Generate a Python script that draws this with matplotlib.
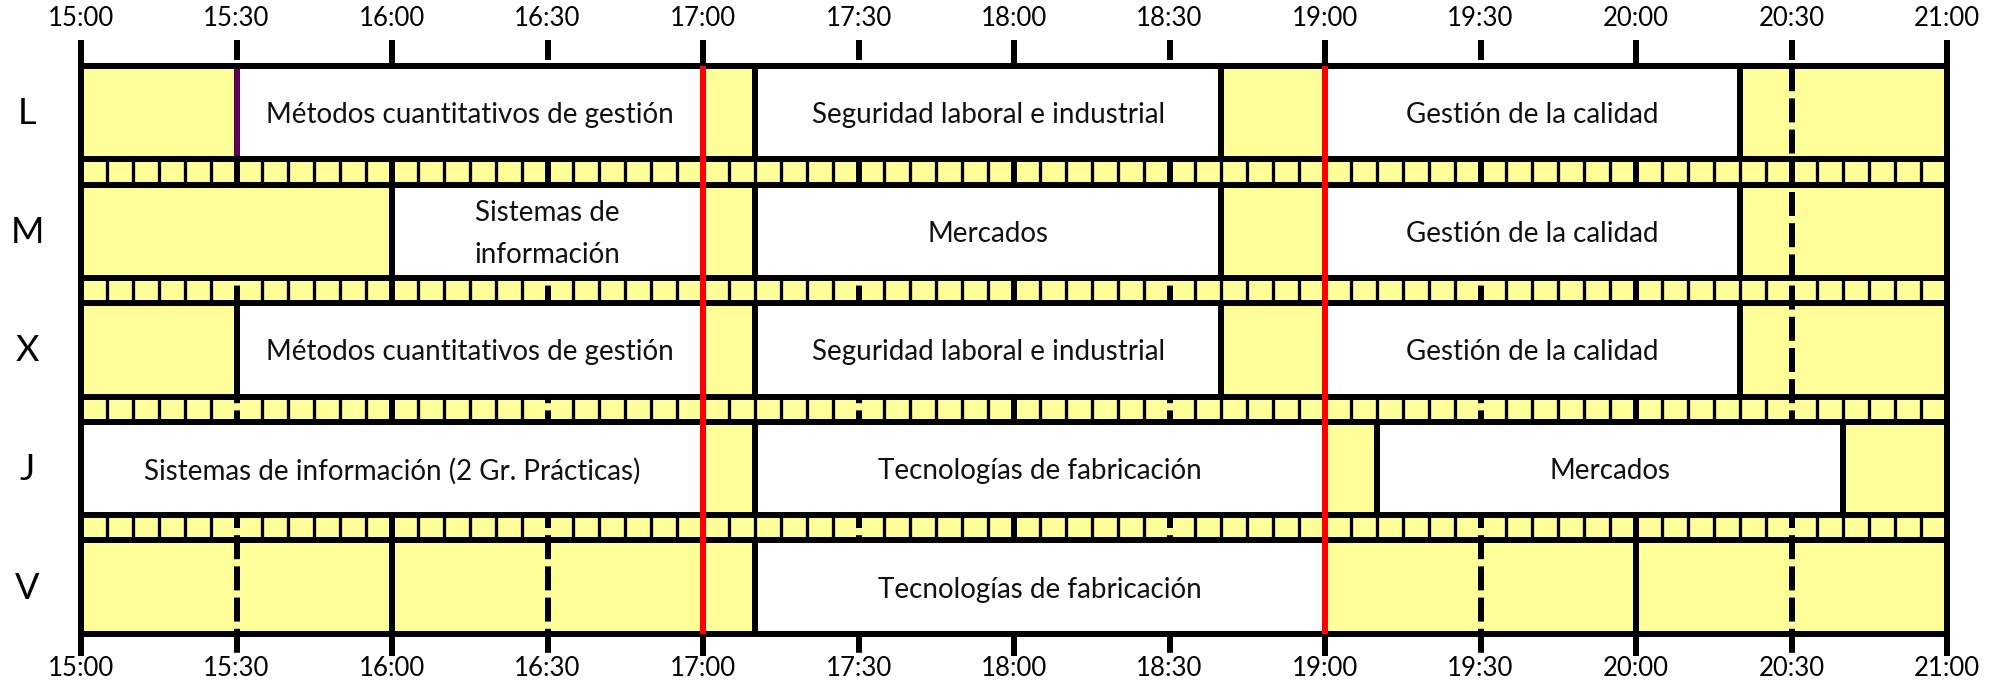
import matplotlib
matplotlib.use("Agg")
import matplotlib.pyplot as plt
from matplotlib.patches import Rectangle

# ---------------- data ----------------
days = ['L', 'M', 'X', 'J', 'V']
tick_labels = ['15:00', '15:30', '16:00', '16:30', '17:00', '17:30', '18:00',
               '18:30', '19:00', '19:30', '20:00', '20:30', '21:00']

courses_L = [('15:30', '17:00', 'Métodos cuantitativos de gestión'),
             ('17:10', '18:40', 'Seguridad laboral e industrial'),
             ('19:00', '20:20', 'Gestión de la calidad')]
courses_M = [('16:00', '17:00', 'Sistemas de\ninformación'),
             ('17:10', '18:40', 'Mercados'),
             ('19:00', '20:20', 'Gestión de la calidad')]
courses_X = [('15:30', '17:00', 'Métodos cuantitativos de gestión'),
             ('17:10', '18:40', 'Seguridad laboral e industrial'),
             ('19:00', '20:20', 'Gestión de la calidad')]
courses_J = [('15:00', '17:00', 'Sistemas de información (2 Gr. Prácticas)'),
             ('17:10', '19:00', 'Tecnologías de fabricación'),
             ('19:10', '20:40', 'Mercados')]
courses_V = [('17:10', '19:00', 'Tecnologías de fabricación')]
courses = [courses_L, courses_M, courses_X, courses_J, courses_V]

free_blocks = [('M', '15:00', '16:00')]      # free slot drawn as a plain block
marker_purple = [('L', '15:30')]
red_times = ['17:00', '19:00']
slot_minutes = 5

# ---------------- helpers ----------------
def tmin(s):
    h, m = s.split(':')
    return (int(h) - 15) * 60 + int(m)

W, H = 2003, 696
X0_PX, PX_PER_MIN = 81.0, 1866.0 / 360.0
TOP, ROW_H, STRIP_H = 66.0, 93.3, 25.3
GRID_TOP, GRID_BOT = 40.0, 656.0
LW = 6 * 72 / 100.0
LW_THIN = 3.3 * 72 / 100.0
YELLOW = '#FFFF99'
FONT = ['Lato', 'DejaVu Sans']
TEXT_DY = 2.5

def row_top(i):
    return TOP + i * (ROW_H + STRIP_H)

BOTTOM = row_top(len(days) - 1) + ROW_H
T_END = tmin(tick_labels[-1])

fig = plt.figure(figsize=(W / 100, H / 100), dpi=100)
ax = fig.add_axes([0, 0, 1, 1])
ax.set_xlim(-X0_PX / PX_PER_MIN, (W - X0_PX) / PX_PER_MIN)
ax.set_ylim(H, 0)
ax.axis('off')

# yellow background
ax.add_patch(Rectangle((0, TOP), T_END, BOTTOM - TOP, facecolor=YELLOW,
                       edgecolor='none', zorder=0))

# thin dividers in the strips
for i in range(len(days) - 1):
    y0 = row_top(i) + ROW_H
    y1 = y0 + STRIP_H
    for m in range(slot_minutes, T_END, slot_minutes):
        if m % 30 == 0:
            continue
        ax.plot([m, m], [y0, y1], color='black', lw=LW_THIN,
                solid_capstyle='butt', zorder=1)

# gridlines: solid on hours, dashed on half hours
for lab in tick_labels:
    m = tmin(lab)
    if m % 60 == 0:
        ax.plot([m, m], [GRID_TOP, GRID_BOT], color='black', lw=LW,
                solid_capstyle='butt', zorder=2)
    else:
        ax.plot([m, m], [GRID_TOP, GRID_BOT], color='black', lw=LW,
                linestyle=(0.67, (4.0, 1.2)), dash_capstyle='butt', zorder=2)

# free blocks
for d, s, e in free_blocks:
    i = days.index(d)
    ax.add_patch(Rectangle((tmin(s), row_top(i)), tmin(e) - tmin(s), ROW_H,
                           facecolor=YELLOW, edgecolor='black', lw=LW, zorder=3))

# course blocks
for i, row in enumerate(courses):
    for s, e, lab in row:
        a, b = tmin(s), tmin(e)
        ax.add_patch(Rectangle((a, row_top(i)), b - a, ROW_H, facecolor='white',
                               edgecolor='black', lw=LW, zorder=3))
        ax.text((a + b) / 2, row_top(i) + ROW_H / 2 + TEXT_DY, lab, ha='center',
                va='center', fontsize=20, family=FONT, color='#111111',
                linespacing=1.75, zorder=7)

# horizontal borders
for i in range(len(days)):
    for y in (row_top(i), row_top(i) + ROW_H):
        ax.plot([0, T_END], [y, y], color='black', lw=LW,
                solid_capstyle='projecting', zorder=4)

# purple marker
for d, t in marker_purple:
    i = days.index(d)
    ax.plot([tmin(t), tmin(t)], [row_top(i) + 3, row_top(i) + ROW_H - 3],
            color='#600060', lw=5.5 * 72 / 100.0, solid_capstyle='butt', zorder=5)

# red lines
for t in red_times:
    ax.plot([tmin(t), tmin(t)], [TOP, BOTTOM], color='#FF0000', lw=LW,
            solid_capstyle='butt', zorder=6)

# tick labels
for lab in tick_labels:
    m = tmin(lab)
    ax.text(m, 19, lab, ha='center', va='center', fontsize=18.5, family=FONT)
    ax.text(m, 669, lab, ha='center', va='center', fontsize=18.5, family=FONT)

# day labels
for i, d in enumerate(days):
    ax.text(-X0_PX / PX_PER_MIN + 27 / PX_PER_MIN, row_top(i) + ROW_H / 2 + 1, d,
            ha='center', va='center', fontsize=26, family=FONT)

fig.savefig('out.png', dpi=100)
